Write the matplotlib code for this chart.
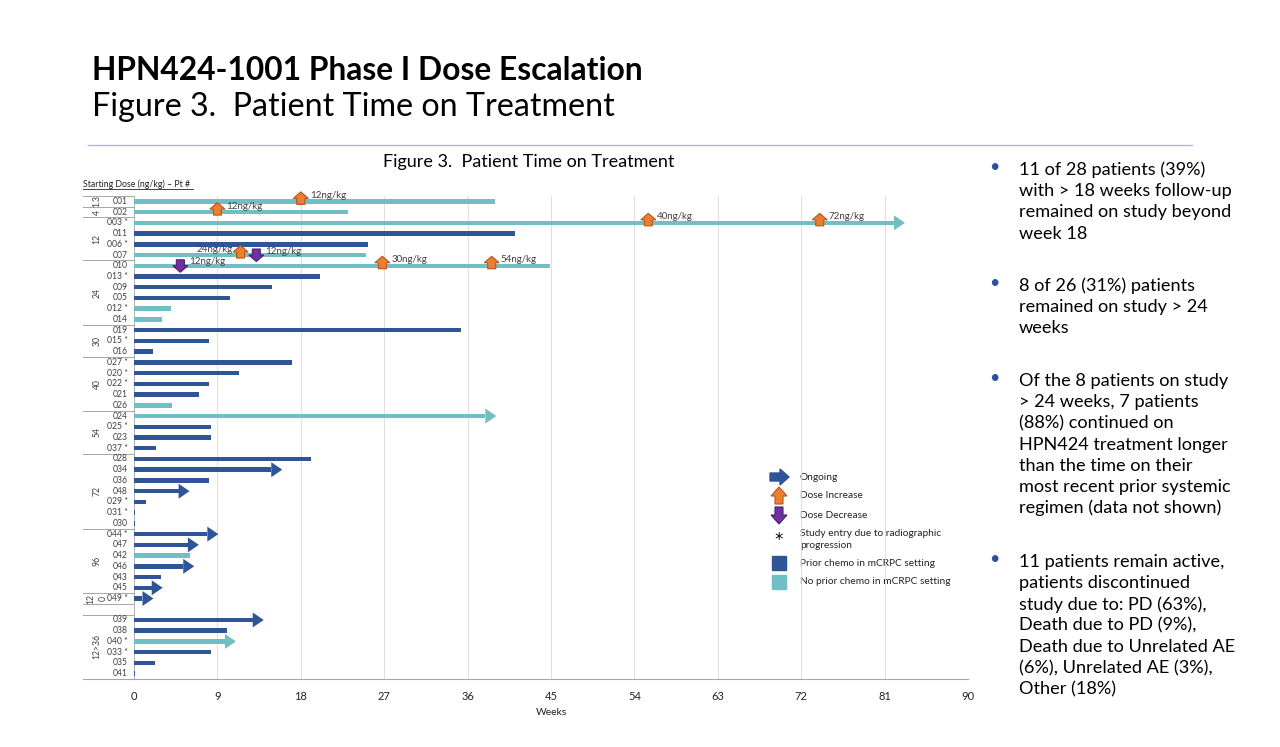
import numpy as np
import matplotlib
matplotlib.use("Agg")
import matplotlib.pyplot as plt
import matplotlib.transforms as mtransforms
from matplotlib.patches import Polygon, Rectangle

plt.rcParams['font.family'] = ['Lato', 'DejaVu Sans']

# ---------------- data ----------------
patients = ['001', '002', '003 *', '011', '006 *', '007', '010', '013 *', '009', '005',
            '012 *', '014', '019', '015 *', '016', '027 *', '020 *', '022 *', '021', '026',
            '024', '025 *', '023', '037 *', '028', '034', '036', '048', '029 *', '031 *',
            '030', '044 *', '047', '042', '046', '043', '045', '049 *', '', '039',
            '038', '040 *', '033 *', '035', '041']
weeks = [39.0, 23.1, 83.2, 41.1, 25.3, 25.0, 44.9, 20.1, 14.9, 10.4,
         4.0, 3.0, 35.3, 8.1, 2.0, 17.0, 11.3, 8.1, 7.0, 4.1,
         39.1, 8.3, 8.3, 2.4, 19.1, 16.0, 8.1, 6.0, 1.3, 0.1,
         0.1, 9.1, 7.0, 6.0, 6.5, 2.9, 3.1, 2.1, 0.0, 14.0,
         10.0, 11.0, 8.3, 2.3, 0.1]
prior_chemo = [0, 0, 0, 1, 1, 0, 0, 1, 1, 1,
               0, 0, 1, 1, 1, 1, 1, 1, 1, 0,
               0, 1, 1, 1, 1, 1, 1, 1, 1, 1,
               1, 1, 1, 0, 1, 1, 1, 1, 1, 1,
               1, 0, 1, 1, 1]
ongoing = ['003 *', '024', '034', '048', '044 *', '047', '046', '045', '049 *', '039', '040 *']

# starting-dose groups: (label, first patient, last patient)
dose_groups = [('1.3', '001', '001'), ('4', '002', '002'), ('12', '003 *', '007'),
               ('24', '010', '014'), ('30', '019', '016'), ('40', '027 *', '026'),
               ('54', '024', '037 *'), ('72', '028', '030'), ('96', '044 *', '045'),
               ('12\n0', '049 *', '049 *'), ('', '', ''), ('12>36', '039', '041')]

# dose changes: (patient, week, direction, label, label side)
dose_changes = [('001', 18.0, 'up', '12ng/kg', 'right'),
                ('002', 9.0, 'up', '12ng/kg', 'right'),
                ('003 *', 55.5, 'up', '40ng/kg', 'right'),
                ('003 *', 74.0, 'up', '72ng/kg', 'right'),
                ('007', 11.5, 'up', '24ng/kg', 'left'),
                ('007', 13.2, 'down', '12ng/kg', 'right'),
                ('010', 5.0, 'down', '12ng/kg', 'right'),
                ('010', 26.8, 'up', '30ng/kg', 'right'),
                ('010', 38.6, 'up', '54ng/kg', 'right')]

xticks = [0, 9, 18, 27, 36, 45, 54, 63, 72, 81, 90]

bullets = [
    ["11 of 28 patients (39%)", "with > 18 weeks follow-up", "remained on study beyond", "week 18"],
    ["8 of 26 (31%) patients", "remained on study > 24", "weeks"],
    ["Of the 8 patients on study", "> 24 weeks, 7 patients", "(88%) continued on",
     "HPN424 treatment longer", "than the time on their", "most recent prior systemic",
     "regimen (data not shown)"],
    ["11 patients remain active,", "patients discontinued", "study due to: PD (63%),",
     "Death due to PD (9%),", "Death due to Unrelated AE", "(6%), Unrelated AE (3%),",
     "Other (18%)"],
]

# ---------------- style ----------------
DARK = '#2F5597'
TEAL = '#6FBFC5'
ORANGE = '#ED7D31'
ORANGE_E = '#B5561A'
PURPLE = '#7030A0'
PURPLE_E = '#4A1F6B'
GRID = '#D9D9D9'
AXC = '#A6A6A6'
TXT = '#404040'

W, H = 1280, 747
fig = plt.figure(figsize=(W / 100, H / 100), dpi=100)

# overlay axes in pixel coordinates for page decorations
ov = fig.add_axes([0, 0, 1, 1])
ov.set_xlim(0, W)
ov.set_ylim(H, 0)
ov.axis('off')

L, R, T, B = 134, 968, 196, 679
ax = fig.add_axes([L / W, 1 - B / H, (R - L) / W, (B - T) / H])
n = len(patients)
ax.set_xlim(0, 90)
ax.set_ylim(n - 0.5, -0.5)
ax.set_zorder(2)
ax.patch.set_alpha(0)

ppw = (R - L) / 90.0  # pixels per week
head_len_px, head_half_px = 11, 7.5
head_w = head_len_px / ppw

rows = np.arange(n)
vals = np.array(weeks, dtype=float)
is_ongoing = np.array([p in ongoing for p in patients])
colors = [DARK if c else TEAL for c in prior_chemo]
bar_len = np.where(is_ongoing, vals - head_w, vals)
ax.barh(rows, bar_len, height=0.42, color=colors, zorder=3)

def px_trans(x, y):
    return fig.dpi_scale_trans + mtransforms.ScaledTranslation(x, y, ax.transData)

def px_poly(verts_px, x, y, fc, ec=None, lw=0.0, z=4):
    v = np.array(verts_px, dtype=float) / 100.0
    p = Polygon(v, closed=True, facecolor=fc, edgecolor=ec if ec else fc, linewidth=lw,
                transform=px_trans(x, y), zorder=z, clip_on=False)
    ax.add_patch(p)

# arrow heads for ongoing patients
for i, p in enumerate(patients):
    if is_ongoing[i]:
        px_poly([(0, 0), (-head_len_px, head_half_px), (-head_len_px, -head_half_px)],
                vals[i], i, colors[i])

UP = [(-4, -3), (4, -3), (4, 3), (7.5, 3), (0, 9.5), (-7.5, 3), (-4, 3)]
DOWN = [(-4, 6), (4, 6), (4, 0), (7.5, 0), (0, -6.5), (-7.5, 0), (-4, 0)]
for p, wk, d, lab, side in dose_changes:
    i = patients.index(p)
    if d == 'up':
        px_poly(UP, wk, i, ORANGE, ORANGE_E, 0.8, 5)
        dy = 6
    else:
        px_poly(DOWN, wk, i, PURPLE, PURPLE_E, 0.8, 5)
        dy = 4
    if side == 'right':
        ax.annotate(lab, (wk, i), xytext=(9, dy), textcoords='offset pixels',
                    ha='left', va='center', fontsize=7, color=TXT, zorder=6)
    else:
        ax.annotate(lab, (wk, i), xytext=(-8, dy), textcoords='offset pixels',
                    ha='right', va='center', fontsize=7, color=TXT, zorder=6)

# grid and axes
for s in ['top', 'right', 'left']:
    ax.spines[s].set_visible(False)
ax.spines['bottom'].set_color(AXC)
ax.spines['bottom'].set_linewidth(0.8)
ax.set_xticks(xticks)
ax.set_xticklabels([str(t) for t in xticks], fontsize=8, color='#222222')
ax.tick_params(axis='x', length=0, pad=9)
ax.set_yticks([])
for t in xticks[1:]:
    ax.axvline(t, color=GRID, lw=0.6, zorder=1)
ax.axvline(0, color=AXC, lw=0.6, zorder=1)
ax.set_xlabel('Weeks', fontsize=7.5, color='#222222', labelpad=4)

# category labels (patient ids and dose groups)
yt = ax.get_yaxis_transform()
id_x = (128 - L) / (R - L)
grp_x = (97 - L) / (R - L)
left_x = (83 - L) / (R - L)
for i, p in enumerate(patients):
    ax.text(id_x, i, p, transform=yt, ha='right', va='center', fontsize=6.2, color=TXT)

bounds = set()
for lab, a, b in dose_groups:
    if a == '':
        continue
    ia, ib = patients.index(a), patients.index(b)
    bounds.add(ia - 0.5)
    bounds.add(ib + 0.5)
    ax.text(grp_x, (ia + ib) / 2, lab, transform=yt, ha='center', va='center',
            rotation=90, fontsize=6.2, color=TXT, linespacing=1.5)
for yb in sorted(bounds):
    if yb == n - 0.5:
        continue
    ax.plot([left_x, 0], [yb, yb], transform=yt, color=AXC, lw=0.7, clip_on=False)
ax.plot([left_x, 0], [n - 0.5, n - 0.5], transform=yt, color=AXC, lw=0.8, clip_on=False)

# ---------------- page text ----------------
ov.text(92, 70, 'HPN424-1001 Phase I Dose Escalation', fontsize=22.9, fontweight='bold',
        ha='left', va='center', color='black')
ov.text(92, 107, 'Figure 3.  Patient Time on Treatment', fontsize=23.2,
        ha='left', va='center', color='black')
ov.plot([88, 1192], [145, 145], color='#B4B4D8', lw=1.0)
ov.text(529, 162, 'Figure 3.  Patient Time on Treatment', fontsize=13,
        ha='center', va='center', color='black')
ov.text(83, 184, 'Starting Dose (ng/kg) \u2013 Pt #', fontsize=6.3,
        ha='left', va='center', color='#222222')
ov.plot([83, 193], [189, 189], color='#222222', lw=0.6)

# legend
lx, tx = 779, 800
ly = [477, 496, 515, 538, 563, 582]
ov.add_patch(Polygon([(lx - 9, ly[0] - 4), (lx + 1, ly[0] - 4), (lx + 1, ly[0] - 8),
                      (lx + 10, ly[0]), (lx + 1, ly[0] + 8), (lx + 1, ly[0] + 4),
                      (lx - 9, ly[0] + 4)], closed=True, fc=DARK, ec=DARK))
c = ly[1]
ov.add_patch(Polygon([(lx - 4, c + 8), (lx + 4, c + 8), (lx + 4, c), (lx + 8, c),
                      (lx, c - 9), (lx - 8, c), (lx - 4, c)], closed=True,
                     fc=ORANGE, ec=ORANGE_E, lw=0.8))
c = ly[2]
ov.add_patch(Polygon([(lx - 4, c - 8), (lx + 4, c - 8), (lx + 4, c), (lx + 8, c),
                      (lx, c + 9), (lx - 8, c), (lx - 4, c)], closed=True,
                     fc=PURPLE, ec=PURPLE_E, lw=0.8))
ov.text(lx, ly[3] + 2, '*', fontsize=12, ha='center', va='center', color='black',
        family='DejaVu Sans')
ov.add_patch(Rectangle((lx - 7, ly[4] - 7), 14, 14, fc=DARK, ec=DARK))
ov.add_patch(Rectangle((lx - 7, ly[5] - 7), 14, 14, fc=TEAL, ec=TEAL))
leg_txt = [('Ongoing', 477), ('Dose Increase', 496), ('Dose Decrease', 515),
           ('Study entry due to radiographic', 533), ('progression', 546),
           ('Prior chemo in mCRPC setting', 563), ('No prior chemo in mCRPC setting', 582)]
for s, y in leg_txt:
    ov.text(tx, y, s, fontsize=7.3, ha='left', va='center', color='#222222')

# bullets
starts = [170, 286, 381, 562]
lh = 21.2
for blk, y0 in zip(bullets, starts):
    ov.text(994, y0 - 3, '\u2022', fontsize=13, ha='center', va='center', color='#2F4F9F')
    for k, line in enumerate(blk):
        ov.text(1019, y0 + k * lh, line, fontsize=13.1, ha='left', va='center', color='black')

fig.savefig('out.png', dpi=100)
